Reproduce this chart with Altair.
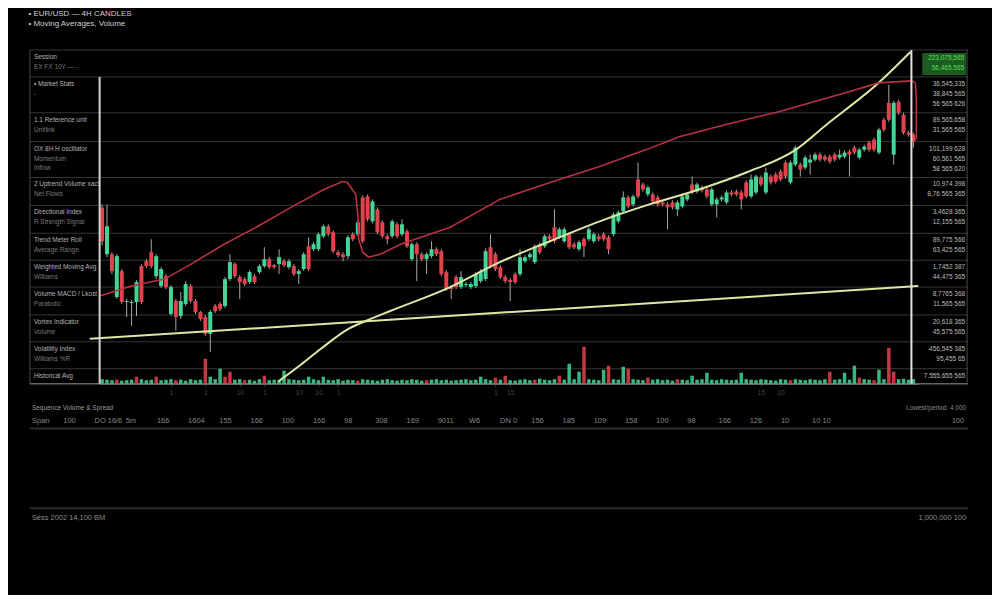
import altair as alt
import pandas as pd

# ---------------- data ----------------
opens = [17.7, 13.0, 13.0, 8.7, 11.3, 8.2, 8.1, 8.2, 11.8, 12.3,
         13.2, 10.8, 9.8, 10.8, 7.0, 8.3, 6.8, 8.0, 9.8, 8.3,
         7.2, 6.7, 5.0, 7.8, 8.0, 7.8, 10.5, 12.0, 10.7, 10.5,
         10.2, 10.8, 11.2, 11.8, 12.5, 11.9, 12.0, 12.3, 11.7, 11.8,
         11.0, 11.5, 13.8, 13.5, 13.5, 14.8, 15.8, 15.2, 13.2, 13.0,
         12.8, 15.0, 15.0, 18.7, 18.8, 16.3, 17.5, 16.2, 14.8, 14.8,
         16.0, 15.0, 15.3, 12.5, 14.0, 13.0, 12.5, 12.8, 13.5, 13.3,
         11.2, 9.7, 10.7, 9.7, 9.9, 9.7, 9.8, 10.3, 10.5, 13.7,
         13.0, 11.7, 10.7, 10.4, 11.0, 11.0, 12.3, 12.7, 12.2, 14.0,
         13.8, 14.8, 15.7, 14.7, 14.3, 15.0, 14.0, 13.5, 14.5, 14.5,
         14.3, 14.8, 15.0, 14.7, 15.0, 16.3, 17.3, 18.7, 18.0, 20.5,
         20.0, 19.0, 19.0, 18.7, 18.2, 18.0, 18.2, 17.5, 17.8, 18.5,
         20.0, 19.3, 19.7, 19.5, 18.0, 18.0, 18.5, 18.2, 19.2, 19.3,
         19.2, 20.2, 18.8, 19.2, 20.7, 19.2, 20.8, 21.0, 21.3, 22.2,
         20.2, 22.0, 22.0, 21.7, 22.2, 22.5, 23.0, 22.8, 22.8, 23.0,
         22.7, 22.8, 23.3, 23.7, 22.7, 23.5, 24.2, 24.5, 23.2, 26.5,
         28.2, 23.0, 28.3, 27.0, 25.2, 25.0]
highs = [18.0, 18.0, 13.2, 13.0, 11.5, 8.5, 8.4, 10.4, 12.0, 12.5,
         14.5, 13.0, 11.7, 11.0, 9.9, 8.5, 9.2, 10.3, 10.0, 8.5,
         7.3, 6.9, 7.4, 8.0, 8.2, 10.7, 13.0, 12.2, 10.9, 10.7,
         11.4, 11.0, 12.0, 13.7, 12.7, 12.0, 13.5, 12.5, 12.5, 12.0,
         11.5, 13.2, 14.7, 14.2, 15.2, 16.0, 16.0, 15.4, 13.4, 13.2,
         14.9, 15.2, 16.4, 18.9, 19.0, 18.5, 17.7, 16.4, 15.0, 16.5,
         16.2, 16.5, 15.5, 14.2, 14.2, 13.2, 13.2, 14.3, 13.7, 13.5,
         11.4, 9.9, 10.9, 11.3, 10.2, 10.2, 11.2, 11.5, 13.6, 15.0,
         13.2, 11.9, 10.9, 10.6, 11.2, 13.5, 12.9, 13.2, 14.0, 14.2,
         15.0, 15.0, 17.5, 15.7, 15.7, 15.2, 14.2, 14.4, 14.7, 15.7,
         15.2, 15.0, 15.2, 14.9, 17.2, 17.4, 19.3, 18.9, 19.0, 22.2,
         20.2, 19.9, 19.2, 18.9, 18.4, 18.2, 18.4, 18.4, 19.0, 19.2,
         20.8, 20.2, 19.9, 19.7, 19.7, 18.7, 18.9, 19.4, 19.4, 19.5,
         19.4, 20.4, 21.0, 21.0, 20.9, 21.7, 21.0, 21.2, 21.5, 22.4,
         22.4, 23.9, 22.2, 22.9, 23.0, 23.2, 23.2, 23.0, 23.0, 23.2,
         23.5, 23.4, 23.5, 23.9, 23.7, 24.0, 24.4, 24.7, 25.7, 26.7,
         30.0, 28.4, 28.5, 27.2, 25.4, 25.2]
lows = [13.9, 12.7, 11.0, 8.5, 8.0, 6.7, 5.8, 6.8, 8.0, 11.6,
        11.6, 10.5, 9.6, 9.5, 6.8, 5.3, 6.5, 7.8, 8.1, 7.0,
        6.3, 4.8, 3.2, 7.1, 7.3, 7.6, 10.3, 10.6, 8.5, 9.8,
        10.0, 10.0, 11.0, 11.6, 11.5, 11.5, 11.0, 11.7, 11.5, 10.8,
        10.0, 11.3, 11.3, 13.3, 13.3, 14.6, 14.8, 13.1, 12.7, 12.3,
        12.5, 14.3, 14.8, 14.1, 16.3, 16.1, 15.0, 14.6, 14.0, 14.6,
        14.6, 14.8, 13.6, 12.3, 10.3, 12.3, 11.0, 12.6, 12.8, 10.8,
        9.3, 8.5, 9.5, 9.5, 9.7, 9.5, 9.6, 10.1, 10.3, 11.6,
        11.3, 10.5, 10.1, 8.3, 10.0, 10.8, 12.1, 12.5, 12.0, 13.0,
        13.6, 14.3, 14.1, 14.5, 14.1, 13.5, 13.5, 13.3, 12.7, 14.3,
        14.1, 14.3, 14.3, 13.0, 14.8, 16.1, 17.1, 17.6, 17.8, 18.6,
        19.3, 18.8, 18.1, 17.8, 17.8, 15.5, 17.5, 16.8, 17.6, 18.3,
        19.0, 19.1, 19.2, 18.6, 17.8, 16.7, 18.3, 18.0, 18.8, 18.8,
        17.5, 18.6, 18.6, 19.0, 19.8, 19.0, 20.0, 20.1, 20.3, 20.6,
        20.0, 21.8, 20.8, 21.5, 21.0, 22.3, 22.3, 22.3, 22.1, 22.3,
        22.5, 22.6, 20.8, 23.0, 22.5, 23.3, 23.3, 23.3, 23.0, 25.3,
        26.3, 22.0, 27.0, 25.0, 24.8, 23.7]
closes = [14.3, 15.8, 11.3, 12.8, 8.2, 8.3, 8.2, 10.2, 8.2, 11.8,
          11.8, 12.8, 11.5, 9.7, 9.7, 6.7, 8.3, 10.0, 8.3, 7.2,
          6.5, 5.0, 7.2, 7.3, 7.5, 10.5, 12.2, 10.8, 10.2, 10.0,
          11.2, 10.2, 11.8, 12.5, 11.7, 11.7, 12.7, 11.9, 12.3, 11.0,
          11.3, 13.0, 11.5, 14.0, 15.0, 15.8, 15.0, 13.3, 12.9, 12.7,
          14.7, 14.5, 16.2, 14.3, 16.5, 18.3, 15.2, 14.8, 14.5, 16.3,
          14.8, 16.0, 13.8, 14.0, 13.0, 12.5, 13.0, 13.5, 13.0, 11.0,
          9.5, 9.5, 9.7, 10.7, 10.0, 10.0, 11.0, 11.3, 13.3, 11.8,
          11.5, 10.7, 10.3, 10.2, 10.2, 12.7, 12.7, 13.0, 13.8, 13.2,
          14.8, 14.5, 14.3, 15.5, 15.5, 13.7, 13.7, 14.2, 13.8, 15.5,
          15.0, 14.5, 14.5, 13.5, 17.0, 17.2, 18.7, 17.8, 18.8, 18.8,
          19.5, 19.7, 18.3, 18.0, 18.0, 17.7, 17.7, 18.2, 18.8, 19.0,
          19.2, 20.0, 19.4, 18.8, 19.5, 18.5, 18.7, 19.2, 19.0, 19.0,
          18.5, 18.8, 20.5, 20.8, 20.0, 21.2, 20.2, 20.3, 20.5, 20.8,
          22.2, 23.7, 21.5, 22.7, 22.5, 23.0, 22.5, 22.5, 22.3, 22.5,
          23.0, 23.2, 23.0, 23.2, 23.5, 23.8, 23.5, 23.5, 25.5, 25.5,
          26.5, 28.2, 27.2, 25.2, 25.0, 24.3]
volumes = [45, 40, 35, 40, 30, 35, 40, 70, 45, 35,
           40, 70, 35, 40, 45, 35, 40, 30, 45, 35,
           40, 250, 70, 45, 150, 70, 120, 40, 45, 35,
           40, 30, 45, 80, 35, 40, 30, 130, 45, 40,
           35, 40, 70, 45, 35, 70, 40, 35, 45, 30,
           40, 35, 30, 45, 40, 35, 30, 40, 45, 35,
           30, 40, 35, 45, 40, 30, 35, 40, 45, 35,
           40, 30, 35, 40, 45, 35, 40, 70, 45, 35,
           60, 40, 80, 35, 30, 40, 45, 35, 40, 50,
           40, 35, 45, 80, 40, 200, 45, 120, 370, 45,
           40, 35, 140, 180, 45, 40, 170, 150, 45, 40,
           35, 60, 40, 45, 35, 40, 30, 45, 40, 35,
           80, 40, 45, 110, 40, 35, 45, 40, 35, 40,
           110, 45, 40, 35, 45, 40, 35, 30, 45, 40,
           35, 45, 40, 35, 45, 40, 35, 45, 120, 40,
           45, 110, 40, 180, 60, 45, 40, 35, 140, 45,
           360, 120, 45, 50, 40, 45]
vol_red_idx = [3, 7, 11, 15, 21, 25, 26, 29, 33, 52, 66, 80, 82, 88, 93, 98,
               103, 107, 111, 117, 140, 148, 154, 157, 160, 161]

red_x = [-0.5, 6.0, 12.7, 18.1, 24.8, 31.7, 38.4, 45.1, 48.9, 49.9, 51.6, 52.0,
         52.2, 53.0, 54.2, 56.6, 60.7, 70.8, 80.9, 91.1, 101.2, 110.7, 117.4,
         127.5, 137.6, 151.2, 157.9, 164.6, 165.4, 165.6, 165.6]
red_y = [8.8, 9.8, 10.5, 12.0, 14.0, 15.8, 17.7, 19.5, 20.3, 20.2, 19.0, 17.0,
         14.5, 13.2, 12.7, 13.0, 14.0, 15.7, 18.5, 20.2, 21.8, 23.5, 24.8,
         26.1, 27.3, 29.2, 30.2, 30.4, 30.2, 28.5, 24.5]
curve_x = [35.8, 40.4, 44.5, 50.1, 54.6, 58.6, 70.8, 80.9, 91.1, 101.2, 111.3,
           121.4, 131.0, 141.1, 147.8, 151.2, 157.9, 164.4]
curve_y = [0.2, 1.9, 3.5, 5.5, 6.5, 7.3, 9.7, 12.2, 14.3, 16.3, 18.0,
           19.5, 21.2, 23.5, 26.2, 27.5, 30.2, 33.3]
trend_x = [-2.5, 166.0]
trend_y = [4.5, 9.8]
marker_index = [164.6]

grid_levels = [33.5, 30.8, 27.2, 24.3, 20.7, 17.9, 15.1, 12.4, 9.7, 6.9, 4.2, 1.5, 0.0]

x_tick_values = [14, 21, 28, 33, 40, 44, 48, 80, 83, 134, 138]
x_tick_labels = ["1", "1", "10", "1", "10", "10", "1", "1", "15", "15", "10"]

title_lines = ["\u00a0•  EUR/USD — 4H CANDLES", "\u00a0•  Moving Averages, Volume"]

left_heads = ["Session", "\u00a0\u00a0\u00a0• Market Stats", "1.1 Reference unit",
              "OX 8H H oscillator", "2 Uptrend Volume xact", "Directional Index",
              "Trend Meter Roll", "Weighted Moving Avg", "Volume MACD / Lkost",
              "Vortex Indicator", "Volatility Index", "Historical Avg"]
left_subs = ["EX FX 10Y  — -", "\u00a0\u00a0\u00a0\u00a0\u00a0\u00a0-", "Unitlink",
             "Momentum\nInflow", "Net Flows", "R Strength Signal", "Average Range",
             "Williams", "Parabolic", "Volume", "Williams %R", ""]

right_rows = ["223,075,565\n56,465.565", "36,545,335\n38,845 565\n56 565 626",
              "89,565,658\n31,565 565", "101,199 628\n60,561 565\n58 565 620",
              "10,974 398\n8,76 565 365", "3,4628 365\n12,155 565",
              "89,775 566\n63,425 565", "1,7452 387\n44,475 365",
              "8,7765 368\n11,565 565", "20,618 365\n45,575 565",
              "456,545 385\n95,455 65", "7,555,655 565"]

footer_labels = ["Span", "100", "DO 16/6", "5m", "166", "1604", "155", "166", "100",
                 "166", "98", "308", "169", "9011", "W6", "DN 0", "156", "185",
                 "109", "158", "100", "98", "166", "126", "10", "10 10"]
footer_last = "100"
footer_caption = "Sequence Volume & Spread"
footer_caption_right = "Lowest/period: 4 000"
footer_left = "Sess 2002  14,100 BM"
footer_right = "1,000,000  100"

# ---------------- styling ----------------
BG = "#000000"
GREEN = "#43d596"
RED = "#e3424c"
YEL = "#dfe7a6"
REDLINE = "#b7323e"
GRID = "#363636"
FONT = "Liberation Sans"

MAIN_W, H = 822, 335
LEFT_W, RIGHT_W = 70, 50
FOOT_W, FOOT_H = LEFT_W + MAIN_W + RIGHT_W, 130

n = len(opens)
cdf = pd.DataFrame({"idx": list(range(n)), "open": opens, "high": highs,
                    "low": lows, "close": closes, "vol": volumes})
cdf["dir"] = ["up" if c >= o else "down" for o, c in zip(opens, closes)]
cdf["vdir"] = ["down" if i in vol_red_idx else "up" for i in range(n)]

X = alt.Scale(domain=[-0.5, 166], nice=False, zero=False, padding=0)
Y = alt.Scale(domain=[0, 33.5], nice=False, zero=False, padding=0)
VY = alt.Scale(domain=[0, 3350], nice=False, padding=0)
C = alt.Scale(domain=["up", "down"], range=[GREEN, RED])

vals_js = ",".join(str(v) for v in x_tick_values)
labs_js = ",".join("'" + s + "'" for s in x_tick_labels)
xaxis = alt.Axis(values=x_tick_values, labelExpr=f"[{labs_js}][indexof([{vals_js}], datum.value)]",
                 grid=False, domainColor="#6a6a6a", domainWidth=1.5, tickColor="#303030",
                 tickSize=3, labelColor="#404040", labelFontSize=7, labelFont=FONT,
                 title=None, labelPadding=2)

gdf = pd.DataFrame({"level": grid_levels[:-1]})
bdf = pd.DataFrame({"level": [grid_levels[-1]]})


def grid_layers():
    g = alt.Chart(gdf).mark_rule(color=GRID, strokeWidth=1).encode(
        y=alt.Y("level:Q", scale=Y, axis=None))
    b = alt.Chart(bdf).mark_rule(color="#666666", strokeWidth=1.5).encode(
        y=alt.Y("level:Q", scale=Y, axis=None))
    return [g, b]


# ---------------- main plot ----------------
vol = alt.Chart(cdf).mark_bar(size=3.5, opacity=0.85).encode(
    x=alt.X("idx:Q", scale=X, axis=xaxis),
    y=alt.Y("vol:Q", scale=VY, axis=None),
    color=alt.Color("vdir:N", scale=C, legend=None))
wick = alt.Chart(cdf).mark_rule(strokeWidth=1, color="#a8a8a8").encode(
    x=alt.X("idx:Q", scale=X, axis=xaxis),
    y=alt.Y("low:Q", scale=Y, axis=None), y2="high:Q")
body = alt.Chart(cdf).mark_bar(size=4).encode(
    x=alt.X("idx:Q", scale=X, axis=xaxis),
    y=alt.Y("open:Q", scale=Y, axis=None), y2="close:Q",
    color=alt.Color("dir:N", scale=C, legend=None))

tdf = pd.DataFrame({"x": trend_x, "y": trend_y})
trend = alt.Chart(tdf).mark_line(color=YEL, strokeWidth=2).encode(
    x=alt.X("x:Q", scale=X, axis=xaxis), y=alt.Y("y:Q", scale=Y, axis=None))
kdf = pd.DataFrame({"x": curve_x, "y": curve_y})
curve = alt.Chart(kdf).mark_line(color=YEL, strokeWidth=2, interpolate="monotone").encode(
    x=alt.X("x:Q", scale=X, axis=xaxis), y=alt.Y("y:Q", scale=Y, axis=None))
rdf = pd.DataFrame({"x": red_x, "y": red_y, "o": list(range(len(red_x)))})
redl = alt.Chart(rdf).mark_line(color=REDLINE, strokeWidth=1.6).encode(
    x=alt.X("x:Q", scale=X, axis=xaxis), y=alt.Y("y:Q", scale=Y, axis=None),
    order=alt.Order("o:Q"))
mdf = pd.DataFrame({"m": marker_index})
marker = alt.Chart(mdf).mark_rule(color="#e4e4e4", strokeWidth=2).encode(
    x=alt.X("m:Q", scale=X, axis=xaxis))
edf = pd.DataFrame({"t": [grid_levels[1]], "b": [grid_levels[-1]]})
left_border = alt.Chart(edf).mark_rule(color="#d4d4d4", strokeWidth=2).encode(
    x=alt.value(0), y=alt.Y("t:Q", scale=Y, axis=None), y2="b:Q")

main = alt.layer(*grid_layers(), vol, wick, body, trend, curve, redl, marker,
                 left_border).resolve_scale(y="independent").properties(
    width=MAIN_W, height=H)

# ---------------- left panel ----------------
top_levels = grid_levels[:-1]
ldf = pd.DataFrame({"top": top_levels, "head": left_heads, "sub": left_subs})
ledge = alt.Chart(pd.DataFrame({"t": [grid_levels[0]], "b": [grid_levels[-1]]})).mark_rule(
    color="#4a4a4a", strokeWidth=1).encode(
    x=alt.value(0), y=alt.Y("t:Q", scale=Y, axis=None), y2="b:Q")
lhead = alt.Chart(ldf).mark_text(align="left", baseline="top", dy=4, fontSize=6.5,
                                 color="#b4b4b4", font=FONT).encode(
    x=alt.value(4), y=alt.Y("top:Q", scale=Y, axis=None), text="head:N")
lsub = alt.Chart(ldf).mark_text(align="left", baseline="top", dy=14, fontSize=6.5,
                                color="#7a7a7a", font=FONT, lineBreak="\n",
                                lineHeight=9).encode(
    x=alt.value(4), y=alt.Y("top:Q", scale=Y, axis=None), text="sub:N")
left = alt.layer(*grid_layers(), ledge, lhead, lsub).properties(width=LEFT_W, height=H)

# ---------------- right panel ----------------
rtdf_hl = pd.DataFrame({"top": top_levels[:1], "txt": right_rows[:1]})
rtdf = pd.DataFrame({"top": top_levels[1:], "txt": right_rows[1:]})
redge = alt.Chart(pd.DataFrame({"t": [grid_levels[0]], "b": [grid_levels[-1]]})).mark_rule(
    color="#4a4a4a", strokeWidth=1).encode(
    x=alt.value(RIGHT_W - 1), y=alt.Y("t:Q", scale=Y, axis=None), y2="b:Q")
gbox = alt.Chart(pd.DataFrame({"t": [grid_levels[0]], "b": [grid_levels[1]]})).mark_rect(
    color="#1d5a22", yOffset=3, y2Offset=-2).encode(
    x=alt.value(4), x2=alt.value(RIGHT_W - 2),
    y=alt.Y("t:Q", scale=Y, axis=None), y2="b:Q")
rtext_hl = alt.Chart(rtdf_hl).mark_text(align="right", baseline="top", dy=5, fontSize=6.5,
                                        font=FONT, lineBreak="\n", lineHeight=10,
                                        color="#52e052").encode(
    x=alt.value(RIGHT_W - 4), y=alt.Y("top:Q", scale=Y, axis=None), text="txt:N")
rtext = alt.Chart(rtdf).mark_text(align="right", baseline="top", dy=4, fontSize=6.5,
                                  font=FONT, lineBreak="\n", lineHeight=10,
                                  color="#bdbdbd").encode(
    x=alt.value(RIGHT_W - 3), y=alt.Y("top:Q", scale=Y, axis=None), text="txt:N")
right = alt.layer(*grid_layers(), redge, gbox, rtext_hl, rtext).properties(
    width=RIGHT_W, height=H)

top_row = alt.hconcat(left, main, right, spacing=0, bounds="flush")

# ---------------- footer ----------------
dummy = pd.DataFrame({"a": [0]})
fdf = pd.DataFrame({"k": list(range(len(footer_labels))), "lab": footer_labels})
cap_l = alt.Chart(dummy).mark_text(align="left", baseline="middle", fontSize=6.5,
                                   color="#9a9a9a", font=FONT).encode(
    x=alt.value(2), y=alt.value(10), text=alt.value(footer_caption))
cap_r = alt.Chart(dummy).mark_text(align="right", baseline="middle", fontSize=6.5,
                                   color="#8a8a8a", font=FONT).encode(
    x=alt.value(FOOT_W - 2), y=alt.value(10), text=alt.value(footer_caption_right))
row = alt.Chart(fdf).mark_text(align="left", baseline="middle", fontSize=7.5,
                               color="#858585", font=FONT).encode(
    x=alt.X("k:Q", scale=alt.Scale(domain=[-0.07, 30], nice=False), axis=None),
    y=alt.value(23), text="lab:N")
row_last = alt.Chart(dummy).mark_text(align="right", baseline="middle", fontSize=7.5,
                                      color="#858585", font=FONT).encode(
    x=alt.value(FOOT_W - 4), y=alt.value(23), text=alt.value(footer_last))
rule1 = alt.Chart(dummy).mark_rule(color="#2c2c2c", strokeWidth=2).encode(
    x=alt.value(0), x2=alt.value(FOOT_W), y=alt.value(31))
rule2 = alt.Chart(dummy).mark_rule(color="#2c2c2c", strokeWidth=2).encode(
    x=alt.value(0), x2=alt.value(FOOT_W), y=alt.value(111))
bot_l = alt.Chart(dummy).mark_text(align="left", baseline="middle", fontSize=7.5,
                                   color="#8c8c8c", font=FONT).encode(
    x=alt.value(2), y=alt.value(121), text=alt.value(footer_left))
bot_r = alt.Chart(dummy).mark_text(align="right", baseline="middle", fontSize=7.5,
                                   color="#8c8c8c", font=FONT).encode(
    x=alt.value(FOOT_W - 2), y=alt.value(121), text=alt.value(footer_right))
footer = alt.layer(cap_l, cap_r, row, row_last, rule1, rule2, bot_l, bot_r).properties(
    width=FOOT_W, height=FOOT_H)

chart = alt.vconcat(
    top_row, footer, spacing=0,
    title=alt.TitleParams(title_lines, anchor="start", fontSize=8, color="#d0d0d0",
                          font=FONT, fontWeight="normal", lineHeight=10, offset=20),
).properties(
    padding={"left": 20, "top": 0, "right": 22, "bottom": 66}
).configure(background=BG, font=FONT).configure_view(stroke="transparent")

chart.save("out.html", embed_options={"renderer": "svg", "actions": False})
